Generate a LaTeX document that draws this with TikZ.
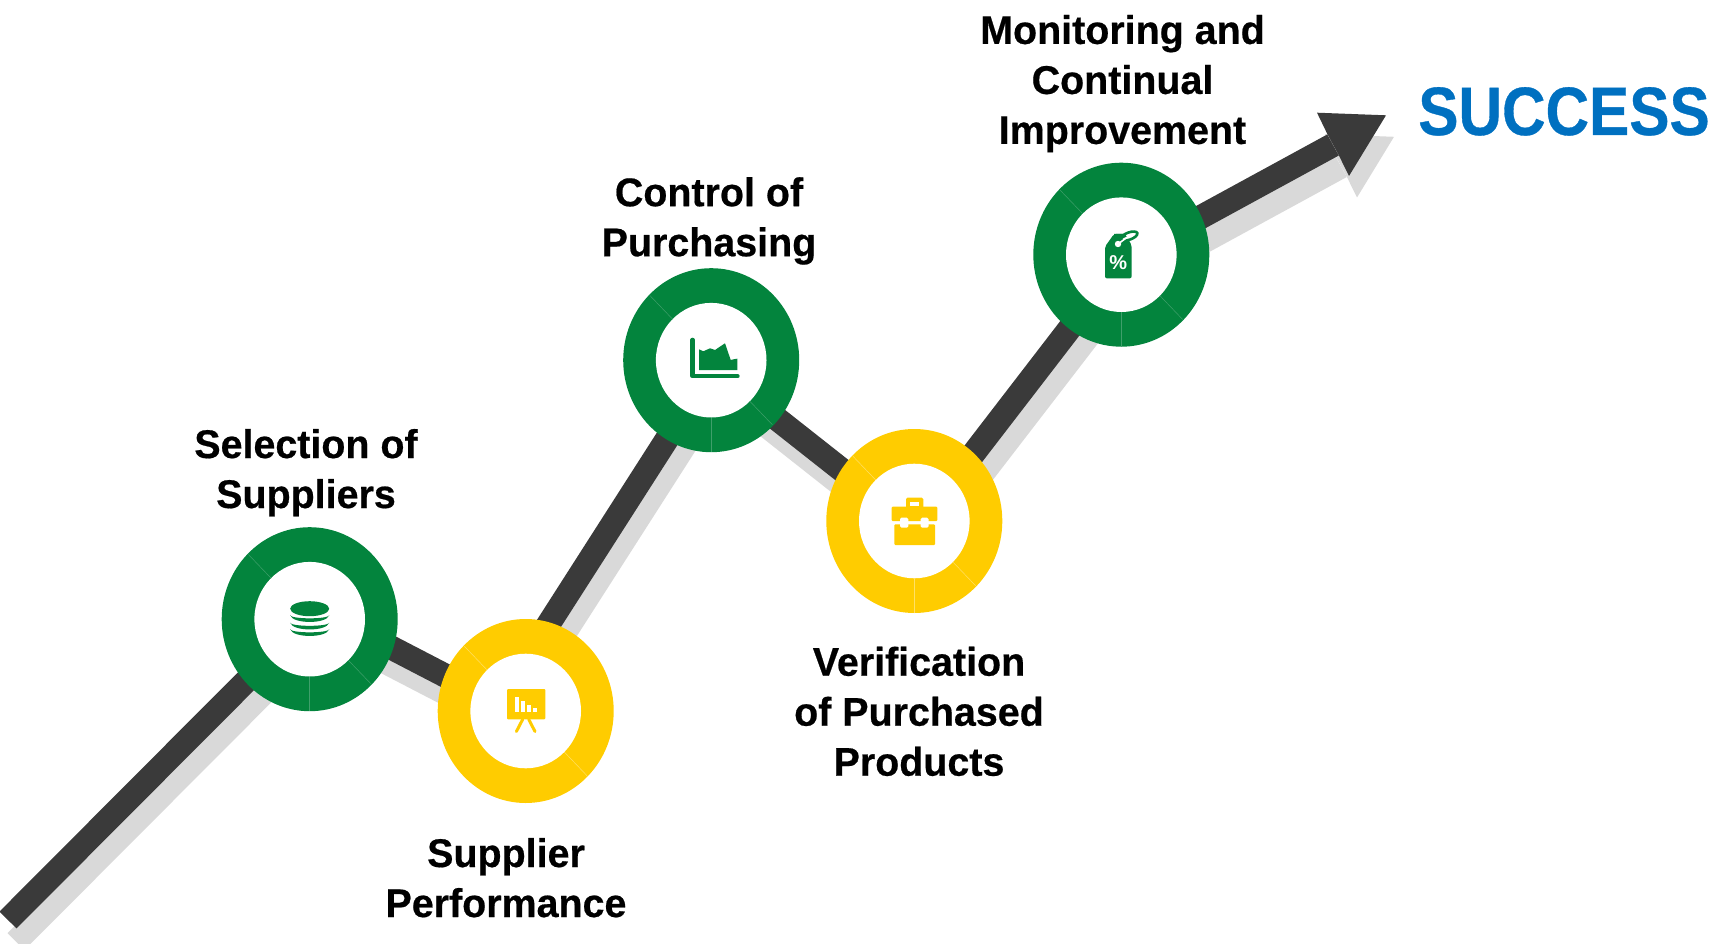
\documentclass[tikz,border=0pt]{standalone}
\usepackage{fontspec}
\usetikzlibrary{shapes.geometric}
\setmainfont{Liberation Sans}[FakeStretch=0.985,BoldFeatures={FakeBold=0.5}]
\newfontfamily\succfont{Liberation Sans}[FakeStretch=0.88,BoldFeatures={FakeBold=0.5}]
\newfontfamily\pctfont{Liberation Sans}
\definecolor{ringgreen}{HTML}{03843D}
\definecolor{ringyellow}{HTML}{FFCC00}
\definecolor{seamgreen}{HTML}{3F9F6B}
\definecolor{seamyellow}{HTML}{FFE066}
\definecolor{pathdark}{HTML}{3A3A3A}
\definecolor{pathshade}{HTML}{D9D9D9}
\definecolor{succblue}{HTML}{0070C0}
\newcommand{\firstline}{\rule{0pt}{30pt}}
\tikzset{
  ringouter/.style={ellipse,inner sep=0pt,minimum width=176pt,minimum height=184pt},
  ringhole/.style={ellipse,inner sep=0pt,fill=white,minimum width=110.6pt,minimum height=114.6pt},
  labeltext/.style={anchor=north,inner sep=0pt,align=center,text=black,font=\bfseries\fontsize{40}{50}\selectfont},
  seamline/.style={line width=0.5pt},
  trackline/.style={line width=24pt,line cap=butt,line join=round},
}
\begin{document}
\begin{tikzpicture}[x=1pt,y=-1pt]
\path[use as bounding box] (0,0) rectangle (1724,944);
\clip (0,0) rectangle (1724,944);
% route
\coordinate (v0) at (8,920);
\coordinate (v1) at (317.6,609.4);
\coordinate (v2) at (498,703);
\coordinate (v3) at (712.5,368);
\coordinate (v4) at (915.9,528.4);
\coordinate (v5) at (1122.6,259.7);
\coordinate (v6) at (1333,145);
\coordinate (h1) at (1317,112.7);
\coordinate (h2) at (1386,115.3);
\coordinate (h3) at (1349,176);
\coordinate (h4) at (1339,155.7);
\coordinate (h5) at (1327.3,134);
\begin{scope}[transform canvas={xshift=8pt,yshift=-21.5pt}]
  \draw[trackline,pathshade] (v0)--(v1)--(v2)--(v3)--(v4)--(v5)--(v6);
  \fill[pathshade] (h1)--(h2)--(h3)--(h4)--(h5)--cycle;
\end{scope}
\draw[trackline,pathdark] (v0)--(v1)--(v2)--(v3)--(v4)--(v5)--(v6);
\fill[pathdark] (h1)--(h2)--(h3)--(h4)--(h5)--cycle;
% rings
\node[ringouter,fill=ringgreen]  (ring1) at (309.7,619.2) {};
\node[ringouter,fill=ringyellow] (ring2) at (525.7,711) {};
\node[ringouter,fill=ringgreen]  (ring3) at (711.2,360.2) {};
\node[ringouter,fill=ringyellow] (ring4) at (914.3,521) {};
\node[ringouter,fill=ringgreen]  (ring5) at (1121.3,254.7) {};
\node[ringhole] (hole1) at (ring1.center) {};
\node[ringhole] (hole2) at (ring2.center) {};
\node[ringhole] (hole3) at (ring3.center) {};
\node[ringhole] (hole4) at (ring4.center) {};
\node[ringhole] (hole5) at (ring5.center) {};
% seams
\foreach \r/\c in {1/seamgreen,3/seamgreen,5/seamgreen,4/seamyellow,2/seamyellow}{
  \begin{scope}[shift={(ring\r.center)}]
    \draw[seamline,\c] (-38.6,-41)--(-61.3,-64.7);
    \draw[seamline,\c] (38.6,41)--(61.3,64.7);
  \end{scope}
}
\foreach \r/\c in {1/seamgreen,3/seamgreen,5/seamgreen,4/seamyellow}{
  \begin{scope}[shift={(ring\r.center)}]
    \draw[seamline,\c] (0,57.3)--(0,91.8);
  \end{scope}
}
% icon 1: coin stack
\begin{scope}[shift={(ring1.center)},ringgreen]
  \fill (0,-10.5) ellipse [x radius=19.5,y radius=7.5];
  \foreach \y in {-4,3.5,10}{
    \fill (-19.5,\y) .. controls (-17,\y+9) and (17,\y+9) .. (19.5,\y)
          -- (19.5,\y+0.5) .. controls (15,\y+4) and (-15,\y+4) .. (-19.5,\y+0.5) -- cycle;
  }
\end{scope}
% icon 2: presentation board
\begin{scope}[shift={(ring2.center)}]
  \fill[ringyellow,rounded corners=1pt] (-18.7,-22) rectangle (19.7,8.3);
  \fill[white] (-11,-13.7) rectangle (-7,1.3);
  \fill[white] (-4.3,-10.3) rectangle (-0.7,1.3);
  \fill[white] (1.7,-6) rectangle (5.3,1.3);
  \fill[white] (7.7,-2.7) rectangle (11.3,1.3);
  \draw[ringyellow,line width=3pt,line cap=round] (-3,8.3)--(-9.3,20.5);
  \draw[ringyellow,line width=3pt,line cap=round] (3,8.3)--(9.3,20.5);
\end{scope}
% icon 3: area chart
\begin{scope}[shift={(ring3.center)},ringgreen]
  \draw[line width=4.4pt,line cap=round,line join=round] (-18.6,-20.3)--(-18.6,16)--(26.3,16);
  \fill (-12.2,9.8)--(-12.2,-10.9)--(-7.9,-8.9)--(-1.2,-11.9)--(3.8,-10.2)--(13.8,-16.9)--(19.5,-0.2)--(22.8,-1)--(26.1,-1.5)--(26.1,9.8)--cycle;
\end{scope}
% icon 4: briefcase
\begin{scope}[shift={(ring4.center)}]
  \fill[ringyellow,rounded corners=1.5pt] (-8.3,-23.3) rectangle (9,-12);
  \fill[white] (-4.3,-19.3) rectangle (5,-15.3);
  \fill[ringyellow,rounded corners=1pt] (-22.7,-14.3) rectangle (23,0);
  \fill[ringyellow,rounded corners=1pt] (-20,3.3) rectangle (20.7,24);
  \fill[white,rounded corners=1.5pt] (-14.3,-3.3) rectangle (-6,6.7);
  \fill[white,rounded corners=1.5pt] (6.3,-3.3) rectangle (14.3,6.7);
\end{scope}
% icon 5: price tag
\begin{scope}[shift={(ring5.center)}]
  \fill[ringgreen,rounded corners=2pt] (-16.3,-8)--(-7.3,-20.7)--(3.7,-20.7)--(10.3,-9.7)--(10.3,23.7)--(-16.3,23.7)--cycle;
  \draw[ringgreen,fill=white,line width=2.6pt,rotate around={20:(8,-18.7)}] (8,-18.7) ellipse [x radius=8.5,y radius=3.6];
  \fill[ringgreen] (-7.3,-20.7)--(3.7,-20.7)--(5.5,-17.7)--(-7.3,-14)--cycle;
  \draw[white,line width=1.6pt] (-3.3,-10.7)--(6,-17.5);
  \fill[white] (-3.3,-10.7) circle (3.2);
  \node[inner sep=0pt,text=white,font=\pctfont\bfseries\fontsize{20}{20}\selectfont] (pct) at (-3,8) {\%};
\end{scope}
% labels
\node[labeltext] (l1) at (306,427.8) {\firstline Selection of\\Suppliers};
\node[labeltext] (l2) at (506,836.8) {\firstline Supplier\\Performance};
\node[labeltext] (l3) at (709,176) {\firstline Control of\\Purchasing};
\node[labeltext] (l4) at (919,645.5) {\firstline Verification\\of Purchased\\Products};
\node[labeltext] (l5) at (1122.5,13.7) {\firstline Monitoring and\\Continual\\Improvement};
\node[anchor=base,inner sep=0pt,text=succblue,font=\succfont\bfseries\fontsize{68.5}{70}\selectfont] (succ) at (1564,135) {SUCCESS};
\end{tikzpicture}
\end{document}
